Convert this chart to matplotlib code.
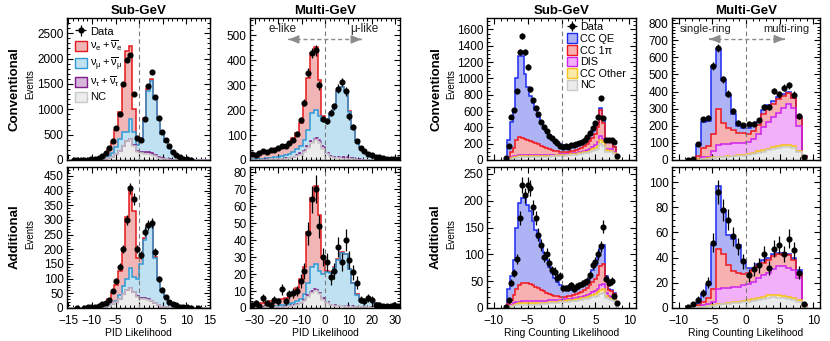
import numpy as np
import matplotlib
matplotlib.use('Agg')
import matplotlib.pyplot as plt
from matplotlib.patches import Patch
from matplotlib.ticker import MultipleLocator

plt.rcParams['font.family'] = ['Liberation Sans', 'DejaVu Sans']
plt.rcParams['mathtext.fontset'] = 'custom'
plt.rcParams['mathtext.rm'] = 'Liberation Sans'
plt.rcParams['mathtext.it'] = 'Liberation Sans'
plt.rcParams['mathtext.bf'] = 'Liberation Sans:bold'

# ---------------- binning ----------------
E_PID_SUB = np.linspace(-15, 15, 41)
E_PID_MULTI = np.linspace(-32, 32, 41)
E_RC_SUB = np.linspace(-8.4, 8.4, 43)
E_RC_MULTI = np.linspace(-9, 9, 25)

# ---------------- Conventional, Sub-GeV, PID (stack levels) ----------------
c_sub_pid_total = [0,1,2,3,4,6,10,18,35,65,120,210,360,600,950,1450,2150,2240,1000,420,430,820,1400,1600,1230,800,520,360,240,150,90,55,30,15,8,4,2,1,0,0]
c_sub_pid_numu  = [0,0,0,0,1,1,2,4,8,15,40,80,140,260,420,560,560,800,560,300,400,790,1370,1560,1200,780,505,350,234,146,88,54,30,15,8,4,2,1,0,0]
c_sub_pid_nutau = [0,0,0,0,0,0,1,2,5,10,20,35,60,110,180,280,380,420,290,180,160,160,150,130,100,65,40,20,10,5,2,1,0,0,0,0,0,0,0,0]
c_sub_pid_nc    = [0,0,0,0,0,0,1,2,5,10,20,35,60,110,180,280,380,420,280,160,130,120,110,95,70,45,25,12,6,3,1,0,0,0,0,0,0,0,0,0]
c_sub_pid_data  = [0,2,3,4,5,8,12,22,45,80,130,230,380,640,900,1500,1980,2070,1300,430,400,800,1450,1740,1250,830,560,400,270,165,100,55,28,14,8,0,0,0,0,0]

# ---------------- Conventional, Multi-GeV, PID ----------------
c_mul_pid_total = [22,25,28,31,34,38,42,47,53,62,72,88,110,150,220,330,430,455,320,175,160,185,220,275,295,280,195,125,80,52,36,26,19,14,10,7,5,4,3,2]
c_mul_pid_numu  = [3,4,5,6,7,9,11,13,16,20,26,33,43,58,80,120,190,200,175,155,155,183,218,273,293,278,194,124,79,51,35,25,18,13,10,7,5,4,3,2]
c_mul_pid_nutau = [1,1,2,2,3,3,4,5,6,8,10,14,19,27,40,58,78,90,80,55,30,18,14,13,12,11,9,7,5,3,2,2,1,1,1,1,0,0,0,0]
c_mul_pid_nc    = [1,1,1,2,2,3,3,4,5,6,8,11,15,22,33,50,68,80,70,45,24,12,8,7,6,5,4,3,2,2,1,1,1,1,1,0,0,0,0,0]
c_mul_pid_data  = [24,22,30,35,33,42,40,50,55,57,67,80,105,160,230,350,430,440,300,165,155,190,215,287,313,275,175,133,75,50,35,25,20,14,12,8,6,5,4,3]

# ---------------- Conventional, Sub-GeV, Ring counting ----------------
c_sub_rc_ccqe  = [15,250,460,610,1000,1280,1270,1050,900,790,700,610,530,470,410,360,310,270,235,210,190,178,172,172,176,183,195,210,225,245,270,310,360,400,450,640,500,245,240,235,165,30]
c_sub_rc_cc1pi = [5,30,100,150,245,280,275,262,248,235,220,205,190,175,160,147,135,125,116,108,102,100,100,103,108,115,125,138,152,170,195,230,275,320,400,615,450,235,230,228,160,28]
c_sub_rc_dis   = [3,15,35,45,55,60,60,60,60,60,60,60,60,60,61,62,63,64,65,66,68,70,72,75,78,82,87,93,100,110,122,138,160,185,220,300,260,140,135,130,100,18]
c_sub_rc_ccoth = [2,10,25,33,40,43,44,44,44,44,45,45,46,47,48,49,51,53,55,57,59,61,63,66,69,72,76,81,87,94,103,115,130,150,175,245,215,118,113,110,85,15]
c_sub_rc_nc    = [1,7,18,25,30,32,33,33,33,33,34,35,36,37,38,40,42,44,46,48,50,52,55,57,60,63,66,70,75,81,88,97,108,122,140,190,170,100,96,93,72,12]
c_sub_rc_data  = [20,175,530,610,840,1325,1520,1325,1140,865,735,640,560,470,400,350,300,265,230,205,175,165,168,163,178,185,200,210,218,245,285,326,395,450,530,755,520,250,245,240,220,50]

# ---------------- Conventional, Multi-GeV, Ring counting ----------------
c_mul_rc_ccqe  = [0,8,90,225,230,550,650,470,380,270,200,185,185,200,225,290,320,345,370,385,400,365,250,25]
c_mul_rc_cc1pi = [0,3,25,70,80,150,300,215,185,175,160,155,150,170,205,270,300,325,355,375,390,360,245,25]
c_mul_rc_dis   = [0,1,8,15,20,50,90,95,95,97,97,100,105,120,150,190,220,250,275,305,325,305,200,20]
c_mul_rc_ccoth = [0,0.5,3,5,10,15,18,20,22,25,28,30,35,42,50,58,66,75,82,88,88,80,55,10]
c_mul_rc_nc    = [0,0.3,2,4,8,12,15,17,19,21,24,26,30,36,42,49,56,63,70,75,75,68,45,8]
c_mul_rc_data  = [2,8,93,237,248,547,654,471,388,287,217,202,213,213,233,310,310,403,384,423,437,382,256,19]

# ---------------- Additional, Sub-GeV, PID ----------------
a_sub_pid_total = [0,0,0,1,1,1,2,3,6,10,18,30,50,80,125,200,310,410,330,170,170,240,280,280,175,100,60,38,24,15,9,5,3,2,1,0,0,0,0,0]
a_sub_pid_numu  = [0,0,0,0,0,0,0,1,2,3,5,9,15,25,45,75,100,135,105,100,150,230,275,275,170,96,57,36,23,14,9,5,3,2,1,0,0,0,0,0]
a_sub_pid_nutau = [0,0,0,0,0,0,0,0,1,2,4,7,12,20,32,48,62,68,55,40,35,33,30,25,18,10,5,2,1,0,0,0,0,0,0,0,0,0,0,0]
a_sub_pid_nc    = [0,0,0,0,0,0,0,0,1,2,4,7,12,20,32,48,62,67,53,37,31,29,27,23,16,9,5,2,1,0,0,0,0,0,0,0,0,0,0,0]
a_sub_pid_data  = [0,0,1,0,1,2,3,4,8,12,18,28,58,93,140,200,300,407,371,200,180,260,283,290,190,100,62,39,22,14,9,5,3,2,1,0,1,0,0,0]

# ---------------- Additional, Multi-GeV, PID ----------------
a_mul_pid_total = [2,2.5,3,3,3.5,4,4.5,5,5.5,6,7.5,9,12,17,24,45,65,72,55,30,22,21,24,29,33,32,23,15,8,4,3.5,5,5,3,1.5,1,0.8,0.6,0.5,0.4]
a_mul_pid_numu  = [0.3,0.4,0.5,0.6,0.7,0.8,1,1.2,1.5,2,2.5,3.2,4,5.5,8,15,24,26,22,20,21,20.5,23.5,28.5,32.5,31.5,22.7,14.8,7.9,3.9,3.4,4.9,4.9,2.9,1.4,1,0.8,0.6,0.5,0.4]
a_mul_pid_nutau = [0.1,0.2,0.2,0.3,0.3,0.4,0.5,0.6,0.8,1,1.3,1.7,2.3,3.2,5,7.5,10,11,9,6,3.5,2,1.5,1.3,1.2,1.1,1,0.9,0.8,0.6,0.5,0.4,0.3,0.3,0.2,0.1,0,0,0,0]
a_mul_pid_nc    = [0.1,0.1,0.2,0.2,0.3,0.3,0.4,0.5,0.6,0.8,1.1,1.4,1.9,2.7,4.3,6.5,9,10,8,5,3,1.6,1.2,1,0.9,0.8,0.7,0.6,0.5,0.4,0.3,0.3,0.2,0.2,0.1,0.1,0,0,0,0]
a_mul_pid_data  = [2,3,1,6,3,2,5,4,11,4,8,9,10,16,22,44,64,70,48,30,27,18,22,36,27,40,28,21,15,5,4,6,5,2,2,1,1,1,2,1]

# ---------------- Additional, Sub-GeV, Ring counting ----------------
a_sub_rc_ccqe  = [3,35,60,90,150,195,205,205,192,180,162,146,130,116,103,90,77,66,56,48,42,38,35,34,34,35,38,41,44,48,53,60,70,80,95,110,118,60,36,34,28,6]
a_sub_rc_cc1pi = [1,8,15,25,35,43,47,47,46,44,42,40,37,34,31,28,26,24,23,22,21,21,21,22,23,24,26,28,30,33,37,42,48,55,62,78,82,50,33,31,26,5]
a_sub_rc_dis   = [0.5,3,6,9,11,12,13,13,13,13,13,13,13,13,13,13.5,14,14,14.5,15,15.5,16,16.5,17,17.5,18,19,20,21,22,24,26,29,32,36,42,44,28,22,21,18,4]
a_sub_rc_ccoth = [0.3,2,4,6,8,9,9,9,9,9,9,9,9,9.5,10,10,10.5,11,11.5,12,12.5,13,13.5,14,14.5,15,16,17,18,19,20,22,24,26,29,33,35,22,18,17,15,3]
a_sub_rc_nc    = [0.2,1.5,3,4,5,6,6,6,6,6,6,6,6.5,7,7.5,8,8.5,9,9.5,10,10.5,11,11.5,12,12.5,13,13.5,14,15,16,17,18,20,21,23,27,28,19,16,15,13,2]
a_sub_rc_data  = [2,14,47,65,91,168,230,210,229,223,188,168,137,118,96,101,84,70,68,56,59,37,37,38,42,36,40,42,45,48,50,62,81,85,100,115,152,55,47,50,22,9]

# ---------------- Additional, Multi-GeV, Ring counting ----------------
a_mul_rc_ccqe  = [0,0.5,4,11,18,50,97,78,58,55,50,38,32,32,35,38,40,43,44,44,43,40,30,2]
a_mul_rc_cc1pi = [0,0.3,2,5,8,15,47,43,34,29,28,27,28,30,33,36,38,41,43,42,42,38,27,2]
a_mul_rc_dis   = [0,0.1,1,2,3,5,15,16,16,17,17,18,19,21,24,26,28,31,33,33,32,30,24,1]
a_mul_rc_ccoth = [0,0,0.5,1,1.5,2,3,3.5,4,4.5,5,5.5,6,7,8,9,10,10.5,10,9.5,9,8,6,0.5]
a_mul_rc_nc    = [0,0,0.4,0.8,1.2,1.6,2.4,2.8,3.2,3.6,4,4.4,4.8,5.6,6.4,7.2,8,8.4,8,7.6,7.2,6.4,4.8,0.4]
a_mul_rc_data  = [0.5,3,6.6,12,20,52,92,78,70,57,49,37,26,31,34,43,32,47,50,43,55,46,28,3]

# ---------------- styles ----------------
NUE = ('#f2b5b5', '#e3191c')
NUMU = ('#bfe1f1', '#2e9ad6')
NUTAU = ('#d8b6dc', '#7d1a85')
NC = ('#ececec', '#c9c9c9')
CCQE = ('#aeb3f6', '#1c2cf2')
CC1PI = ('#f8b1b1', '#f2161b')
DIS = ('#f1b0f7', '#cf22ef')
CCOTH = ('#fbe9a8', '#f4c21a')

W, H = 830, 341
fig = plt.figure(figsize=(W / 100, H / 100), dpi=100)

cols = [(67, 143), (250, 150), (487, 149), (672, 148)]
rows = [(18, 142), (167, 141)]


def make_ax(r, c):
    x0, w = cols[c]
    y0, h = rows[r]
    return fig.add_axes([x0 / W, 1 - (y0 + h) / H, w / W, h / H])


def draw(ax, edges, layers, data, xlim, ylim, xmaj, xmin, ymaj, ymin, bottom_labels, xlabel):
    edges = np.asarray(edges)
    for vals, (fc, ec), ls in layers:
        ax.stairs(vals, edges, baseline=0, fill=True, facecolor=fc, edgecolor='none', lw=0, zorder=1)
    for vals, (fc, ec), ls in layers:
        ax.stairs(vals, edges, baseline=0, fill=False, color=ec, lw=1.1, ls=ls, zorder=2)
    ax.axvline(0, color='#7a7a7a', ls=(0, (4, 3)), lw=0.8, zorder=3)
    d = np.asarray(data, dtype=float)
    cen = 0.5 * (edges[1:] + edges[:-1])
    wid = np.diff(edges)
    m = d > 0
    h = ax.errorbar(cen[m], d[m], yerr=np.sqrt(d[m]), xerr=0.3 * wid[m], fmt='o', ms=3.4,
                    color='black', ecolor='black', elinewidth=0.9, capsize=0, zorder=4)
    ax.set_xlim(*xlim)
    ax.set_ylim(*ylim)
    ax.xaxis.set_major_locator(MultipleLocator(xmaj))
    ax.xaxis.set_minor_locator(MultipleLocator(xmin))
    ax.yaxis.set_major_locator(MultipleLocator(ymaj))
    ax.yaxis.set_minor_locator(MultipleLocator(ymin))
    ax.tick_params(which='both', direction='in', top=True, right=True, labelsize=8.5)
    ax.tick_params(axis='y', pad=2.5)
    ax.tick_params(axis='x', pad=5)
    ax.tick_params(which='major', length=4, width=0.8)
    ax.tick_params(which='minor', length=2, width=0.7)
    ax.tick_params(axis='x', labelbottom=bottom_labels)
    for s in ax.spines.values():
        s.set_linewidth(1.0)
    if xlabel:
        ax.set_xlabel(xlabel, fontsize=7.5, labelpad=1)
    return h


def dbl_arrow(ax, x0, x1, y):
    col = '#8c8c8c'
    ax.plot([x0, x1], [y, y], color=col, ls=(0, (3, 2)), lw=1.0, zorder=3)
    dx = 0.001 * (x1 - x0)
    for xa, xb in ((x0, x0 + dx), (x1, x1 - dx)):
        ax.annotate('', xy=(xa, y), xytext=(xb, y),
                    arrowprops=dict(arrowstyle='-|>,head_length=0.6,head_width=0.25', color=col, lw=1.0,
                                    shrinkA=0, shrinkB=0), zorder=3)


PID_SUB_XL = (-15.3, 15)
PID_MUL_XL = (-32, 32)
RC_XL = (-11, 11)
TITLE_KW = dict(fontsize=9.5, fontweight='bold', pad=3)

# ---- top row ----
ax1 = make_ax(0, 0)
h1 = draw(ax1, E_PID_SUB,
          [(c_sub_pid_total, NUE, '-'), (c_sub_pid_numu, NUMU, '-'), (c_sub_pid_nutau, NUTAU, '-'), (c_sub_pid_nc, NC, '-')],
          c_sub_pid_data, PID_SUB_XL, (0, 2800), 5, 1, 500, 100, False, None)
ax1.set_title('Sub-GeV', **TITLE_KW)

ax2 = make_ax(0, 1)
draw(ax2, E_PID_MULTI,
     [(c_mul_pid_total, NUE, '-'), (c_mul_pid_numu, NUMU, '-'), (c_mul_pid_nutau, NUTAU, (0, (2, 1))), (c_mul_pid_nc, NC, '-')],
     c_mul_pid_data, PID_MUL_XL, (0, 570), 10, 2, 100, 20, False, None)
ax2.set_title('Multi-GeV', **TITLE_KW)
ax2.text(-18, 524, 'e-like', ha='center', va='center', fontsize=8.5, color='#222222')
ax2.text(16.7, 524, 'μ-like', ha='center', va='center', fontsize=8.5, color='#222222')
dbl_arrow(ax2, -15.5, 15.5, 484)

ax3 = make_ax(0, 2)
h3 = draw(ax3, E_RC_SUB,
          [(c_sub_rc_ccqe, CCQE, '-'), (c_sub_rc_cc1pi, CC1PI, '-'), (c_sub_rc_dis, DIS, '-'),
           (c_sub_rc_ccoth, CCOTH, '-'), (c_sub_rc_nc, NC, '-')],
          c_sub_rc_data, RC_XL, (0, 1740), 5, 1, 200, 50, False, None)
ax3.set_title('Sub-GeV', **TITLE_KW)

ax4 = make_ax(0, 3)
draw(ax4, E_RC_MULTI,
     [(c_mul_rc_ccqe, CCQE, '-'), (c_mul_rc_cc1pi, CC1PI, '-'), (c_mul_rc_dis, DIS, '-'),
      (c_mul_rc_ccoth, CCOTH, '-'), (c_mul_rc_nc, NC, '-')],
     c_mul_rc_data, RC_XL, (0, 830), 5, 1, 100, 20, False, None)
ax4.set_title('Multi-GeV', **TITLE_KW)
ax4.text(-6.0, 765, 'single-ring', ha='center', va='center', fontsize=8, color='#222222')
ax4.text(6.0, 765, 'multi-ring', ha='center', va='center', fontsize=8, color='#222222')
dbl_arrow(ax4, -5.4, 5.7, 707)

# ---- bottom row ----
ax5 = make_ax(1, 0)
draw(ax5, E_PID_SUB,
     [(a_sub_pid_total, NUE, '-'), (a_sub_pid_numu, NUMU, '-'), (a_sub_pid_nutau, NUTAU, '-'), (a_sub_pid_nc, NC, '-')],
     a_sub_pid_data, PID_SUB_XL, (0, 480), 5, 1, 50, 10, True, 'PID Likelihood')

ax6 = make_ax(1, 1)
draw(ax6, E_PID_MULTI,
     [(a_mul_pid_total, NUE, '-'), (a_mul_pid_numu, NUMU, '-'), (a_mul_pid_nutau, NUTAU, (0, (2, 1))), (a_mul_pid_nc, NC, '-')],
     a_mul_pid_data, PID_MUL_XL, (0, 83), 10, 2, 10, 2, True, 'PID Likelihood')

ax7 = make_ax(1, 2)
draw(ax7, E_RC_SUB,
     [(a_sub_rc_ccqe, CCQE, '-'), (a_sub_rc_cc1pi, CC1PI, '-'), (a_sub_rc_dis, DIS, '-'),
      (a_sub_rc_ccoth, CCOTH, '-'), (a_sub_rc_nc, NC, '-')],
     a_sub_rc_data, RC_XL, (0, 263), 5, 1, 50, 10, True, 'Ring Counting Likelihood')

ax8 = make_ax(1, 3)
draw(ax8, E_RC_MULTI,
     [(a_mul_rc_ccqe, CCQE, '-'), (a_mul_rc_cc1pi, CC1PI, '-'), (a_mul_rc_dis, DIS, '-'),
      (a_mul_rc_ccoth, CCOTH, '-'), (a_mul_rc_nc, NC, '-')],
     a_mul_rc_data, RC_XL, (0, 112), 5, 1, 20, 5, True, 'Ring Counting Likelihood')

# ---- legends ----
def patch(st):
    return Patch(facecolor=st[0], edgecolor=st[1], linewidth=1.0)

ax1.legend([h1, patch(NUE), patch(NUMU), patch(NUTAU), patch(NC)],
           ['Data', r'$\mathregular{\nu_e+\overline{\nu}_e}$', r'$\mathregular{\nu_\mu+\overline{\nu}_\mu}$',
            r'$\mathregular{\nu_\tau+\overline{\nu}_\tau}$', 'NC'],
           loc='upper left', bbox_to_anchor=(0.0, 1.0), frameon=False, fontsize=8,
           handlelength=1.1, handleheight=1.0, handletextpad=0.3, labelspacing=0.2, borderaxespad=0.3)

ax3.legend([h3, patch(CCQE), patch(CC1PI), patch(DIS), patch(CCOTH), patch(NC)],
           ['Data', 'CC QE', 'CC 1π', 'DIS', 'CC Other', 'NC'],
           loc='upper left', bbox_to_anchor=(0.49, 1.02), frameon=False, fontsize=7.8,
           handlelength=1.0, handleheight=1.0, handletextpad=0.25, labelspacing=0.1, borderaxespad=0.2)

# ---- row labels ----
for xc, xe in ((15, 30), (436, 451)):
    fig.text(xc / W, 1 - 89 / H, 'Conventional', rotation=90, fontsize=9.5, fontweight='bold', ha='center', va='center')
    fig.text(xe / W, 1 - 84 / H, 'Events', rotation=90, fontsize=7, ha='center', va='center')
    fig.text(xc / W, 1 - 237 / H, 'Additional', rotation=90, fontsize=9.5, fontweight='bold', ha='center', va='center')
    fig.text(xe / W, 1 - 234 / H, 'Events', rotation=90, fontsize=7, ha='center', va='center')

fig.savefig('out.png', dpi=100)
